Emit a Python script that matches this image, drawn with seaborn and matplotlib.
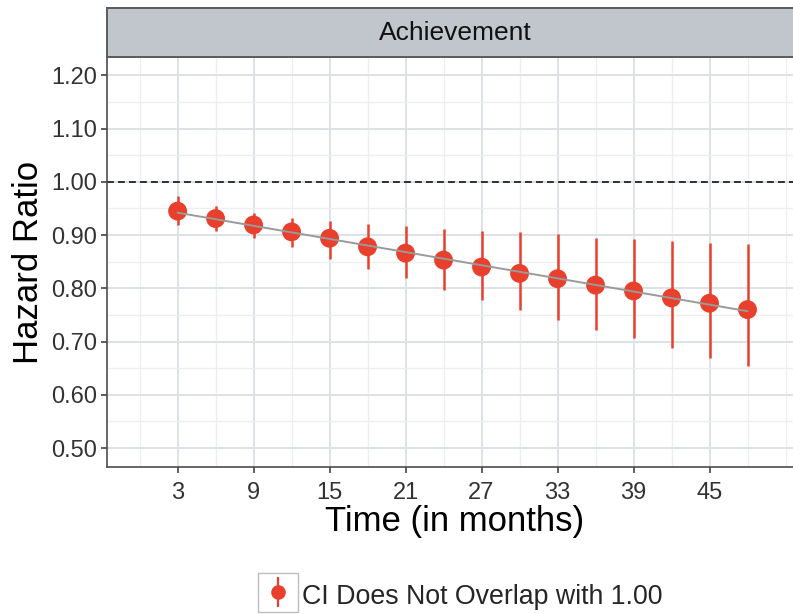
import matplotlib
matplotlib.use("Agg")
import matplotlib.pyplot as plt
import seaborn as sns
import pandas as pd
from matplotlib.lines import Line2D
from matplotlib.patches import Rectangle

# values
months = [3, 6, 9, 12, 15, 18, 21, 24, 27, 30, 33, 36, 39, 42, 45, 48]
hazard_ratio = [0.945, 0.931, 0.919, 0.906, 0.894, 0.878, 0.866, 0.853,
                0.840, 0.828, 0.818, 0.806, 0.795, 0.782, 0.772, 0.760]
ci_lower = [0.919, 0.908, 0.894, 0.878, 0.856, 0.837, 0.819, 0.797,
            0.778, 0.760, 0.741, 0.722, 0.707, 0.688, 0.669, 0.655]
ci_upper = [0.974, 0.955, 0.942, 0.933, 0.927, 0.920, 0.917, 0.911,
            0.908, 0.905, 0.902, 0.895, 0.892, 0.889, 0.886, 0.883]
x_ticks = [3, 9, 15, 21, 27, 33, 39, 45]
x_minor = [0, 6, 12, 18, 24, 30, 36, 42, 48, 51]
y_ticks = [0.50, 0.60, 0.70, 0.80, 0.90, 1.00, 1.10, 1.20]
y_minor = [0.55, 0.65, 0.75, 0.85, 0.95, 1.05, 1.15]
panel_title = "Achievement"
legend_label = "CI Does Not Overlap with 1.00"

df = pd.DataFrame({"month": months, "hr": hazard_ratio,
                   "lower": ci_lower, "upper": ci_upper})

sns.set_theme(style="white")
plt.rcParams["font.family"] = ["Liberation Sans", "DejaVu Sans"]

RED = "#E8402C"
W, H = 793, 614


def fx(px):
    return px / W


def fy(py):
    return (H - py) / H


fig = plt.figure(figsize=(W / 100, H / 100), dpi=100)
left, right, top, bottom = 107.3, 817.8, 56.7, 466.7
ax = fig.add_axes([fx(left), fy(bottom), fx(right - left), (bottom - top) / H])

# grid
ax.set_xticks(x_ticks)
ax.set_xticks(x_minor, minor=True)
ax.set_yticks(y_ticks)
ax.set_yticks(y_minor, minor=True)
ax.set_yticklabels([f"{v:.2f}" for v in y_ticks])
ax.grid(which="major", color="#DDE2E6", lw=1.4)
ax.grid(which="minor", color="#ECEFF1", lw=0.9)
ax.set_axisbelow(True)

ax.axhline(1.0, color="black", lw=1.1, ls=(0, (4.5, 2.7)), zorder=2)
ax.vlines(df["month"], df["lower"], df["upper"], color=RED, lw=1.8, zorder=3)
sns.scatterplot(data=df, x="month", y="hr", color=RED, s=185,
                edgecolor="none", ax=ax, zorder=4, legend=False)
sns.regplot(data=df, x="month", y="hr", scatter=False, ci=None,
            color="#9A9A9A", line_kws={"lw": 1.4, "zorder": 5}, ax=ax)

ax.set_xlim(-2.55, 53.55)
ax.set_ylim(0.465, 1.235)

for s in ["left", "bottom"]:
    ax.spines[s].set_color("#4D4D4D")
    ax.spines[s].set_linewidth(1.2)
ax.spines["top"].set_visible(False)
ax.spines["right"].set_visible(False)

ax.tick_params(which="major", axis="both", labelsize=17, labelcolor="#333333",
               color="#333333", length=4.3, width=1.1, left=True, bottom=True)
ax.tick_params(axis="y", pad=3)
ax.tick_params(axis="x", pad=6.5)
ax.tick_params(which="minor", length=0)

ax.set_xlabel("Time (in months)", fontsize=25, color="black")
ax.set_ylabel("Hazard Ratio", fontsize=25, color="black")
ax.xaxis.label.set_verticalalignment("center")
ax.yaxis.label.set_verticalalignment("center")
ax.xaxis.set_label_coords((455 - left) / (right - left), (bottom - 522) / (bottom - top))
ax.yaxis.set_label_coords((28.5 - left) / (right - left), (bottom - 262.5) / (bottom - top))

# facet strip
sax = fig.add_axes([fx(left), fy(top), fx(right - left), (top - 8.3) / H])
sax.set_facecolor("#C0C6CB")
sax.set_xticks([])
sax.set_yticks([])
for s in sax.spines.values():
    s.set_color("#5A5A5A")
    s.set_linewidth(1.4)
sax.text((455 - left) / (right - left), 0.5, panel_title, ha="center",
         va="center", fontsize=19, color="#111111", transform=sax.transAxes)

# legend at the bottom
fs = 19.3
em = fs * 100 / 72
key_w = 40
bar = Line2D([], [], color=RED, marker="|", markersize=22, markeredgewidth=1.6,
             linestyle="none")
dot = Line2D([], [], color=RED, marker="o", markersize=9.5, linestyle="none")
fig.legend(handles=[(bar, dot)], labels=[legend_label], loc="center left",
           bbox_to_anchor=(fx(258), fy(595.5)), frameon=False, fontsize=fs,
           borderaxespad=0, borderpad=0, handlelength=key_w / em,
           handleheight=1.45, handletextpad=4 / em)
fig.add_artist(Rectangle((fx(258), fy(612)), fx(key_w), 39 / H,
                         transform=fig.transFigure, fill=False,
                         edgecolor="#BDBDBD", lw=1.0))

fig.savefig("out.png", dpi=100)
